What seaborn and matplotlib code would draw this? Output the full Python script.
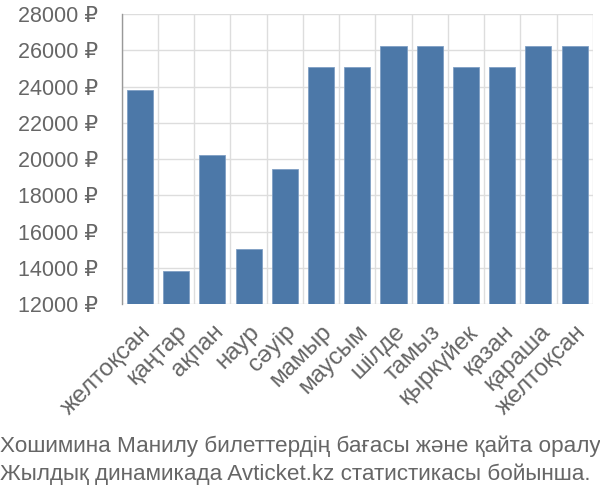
import matplotlib
matplotlib.use("Agg")
import matplotlib.pyplot as plt
import seaborn as sns
import pandas as pd
from matplotlib.ticker import FixedLocator, FuncFormatter

months = ["желтоқсан", "қаңтар", "ақпан", "наур", "сәуір", "мамыр", "маусым",
          "шілде", "тамыз", "қыркүйек", "қазан", "қараша", "желтоқсан"]
prices = [23800, 13800, 20200, 15050, 19450, 25060, 25060,
          26230, 26230, 25060, 25060, 26230, 26230]
y_ticks = [12000, 14000, 16000, 18000, 20000, 22000, 24000, 26000, 28000]
caption = ["Хошимина Манилу билеттердің бағасы және қайта оралу",
           "Жылдық динамикада Avticket.kz статистикасы бойынша."]

sns.set_style("white")
plt.rcParams['font.family'] = ['Liberation Sans', 'DejaVu Sans']

df = pd.DataFrame({"pos": list(range(len(months))), "price": prices})

fig = plt.figure(figsize=(6, 5), dpi=100)
ax = fig.add_axes([0.203, 0.392, 0.785, 0.58])
sns.barplot(data=df, x="pos", y="price", color="#4c78a8", saturation=1,
            width=0.72, ax=ax, edgecolor="#7f9fc4", linewidth=0.6)

ax.set_xlim(-0.5, len(months) - 0.5)
ax.set_ylim(12000, 28000)
ax.set_yticks(y_ticks)
ax.yaxis.set_major_formatter(FuncFormatter(lambda v, p: f"{int(v)} ₽"))

ax.set_xticks(range(len(months)))
ax.set_xticklabels(months, rotation=45, ha="right", rotation_mode="anchor")
ax.xaxis.set_minor_locator(FixedLocator([i - 0.5 for i in range(len(months) + 1)]))
ax.tick_params(axis="x", which="major", length=0, pad=12, labelsize=17.5, labelcolor="#666666")
ax.tick_params(axis="x", which="minor", length=14, width=1, color="#dddddd")
ax.tick_params(axis="y", which="major", length=15, width=1, color="#dddddd",
               pad=2, labelsize=15.5, labelcolor="#666666")

ax.grid(True, axis="y", color="#dddddd", linewidth=1)
ax.grid(True, axis="x", which="minor", color="#dddddd", linewidth=1)
ax.set_axisbelow(True)
ax.set_xlabel("")
ax.set_ylabel("")
for s in ["top", "right", "bottom"]:
    ax.spines[s].set_visible(False)
ax.spines["left"].set_color("#999999")
ax.spines["left"].set_linewidth(1)

fig.text(0.0, 1 - 446 / 500, caption[0], fontsize=16.2, color="#666666", va="center", ha="left")
fig.text(0.0, 1 - 474 / 500, caption[1], fontsize=16.2, color="#666666", va="center", ha="left")

fig.savefig("out.png", dpi=100)
